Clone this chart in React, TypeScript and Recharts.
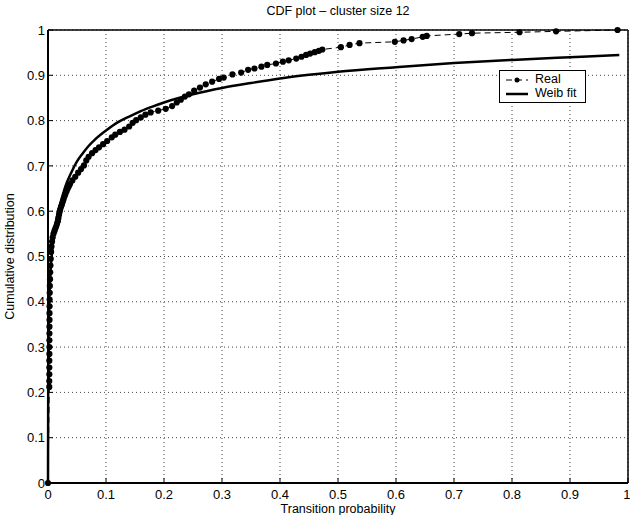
import { ComposedChart, Line, XAxis, YAxis, CartesianGrid } from "recharts";

const TICKS = [0, 0.1, 0.2, 0.3, 0.4, 0.5, 0.6, 0.7, 0.8, 0.9, 1];

const realX = [
  0, 0.0022, 0.0022, 0.0023, 0.0023, 0.0023, 0.0024, 0.0024, 0.0024, 0.0025,
  0.0025, 0.0026, 0.0026, 0.0027, 0.0028, 0.003, 0.0032, 0.0035, 0.0038, 0.0042,
  0.0047, 0.0053, 0.006, 0.007, 0.008, 0.0095, 0.011, 0.0125, 0.014, 0.0155,
  0.017, 0.018, 0.019, 0.02, 0.021, 0.0225, 0.024, 0.0255, 0.027, 0.0285,
  0.03, 0.032, 0.034, 0.036, 0.038, 0.042, 0.047, 0.052,
  0.057, 0.062, 0.066, 0.07, 0.076, 0.082, 0.088, 0.095, 0.102, 0.11,
  0.116, 0.124, 0.132, 0.14, 0.146, 0.152, 0.16, 0.168, 0.177, 0.19,
  0.203, 0.214, 0.222, 0.229, 0.236, 0.243, 0.252, 0.262, 0.272, 0.283,
  0.295, 0.303, 0.318, 0.333, 0.345, 0.356, 0.368, 0.378, 0.393, 0.405,
  0.415, 0.428, 0.437, 0.445, 0.452, 0.46, 0.467, 0.473, 0.505, 0.52,
  0.537, 0.598, 0.613, 0.627, 0.646, 0.653, 0.709, 0.731, 0.813, 0.876,
  0.982,
];
const realY = [
  0, 0.212, 0.225, 0.24, 0.255, 0.27, 0.285, 0.3, 0.315, 0.33,
  0.345, 0.36, 0.375, 0.39, 0.405, 0.42, 0.435, 0.45, 0.465, 0.48,
  0.495, 0.51, 0.522, 0.533, 0.542, 0.55, 0.556, 0.561, 0.566, 0.572,
  0.578, 0.585, 0.592, 0.598, 0.604, 0.61, 0.615, 0.621, 0.627, 0.633,
  0.638, 0.644, 0.65, 0.655, 0.66, 0.668, 0.676, 0.685,
  0.693, 0.701, 0.712, 0.72, 0.728, 0.735, 0.741, 0.748, 0.755, 0.763,
  0.769, 0.775, 0.78, 0.787, 0.795, 0.801, 0.807, 0.813, 0.818, 0.822,
  0.826, 0.832, 0.84, 0.846, 0.853, 0.858, 0.866, 0.873, 0.88, 0.886,
  0.892, 0.895, 0.902, 0.906, 0.912, 0.915, 0.919, 0.923, 0.926, 0.93,
  0.933, 0.937, 0.941, 0.945, 0.948, 0.951, 0.954, 0.957, 0.962, 0.967,
  0.971, 0.974, 0.977, 0.98, 0.985, 0.987, 0.991, 0.993, 0.995, 0.997,
  1.0,
];

// Weibull fit curve
const fitX = [
  0, 0.0005, 0.001, 0.002, 0.003, 0.005, 0.007, 0.01, 0.015, 0.02,
  0.03, 0.04, 0.05, 0.06, 0.07, 0.08, 0.1, 0.12, 0.14, 0.16,
  0.18, 0.2, 0.25, 0.3, 0.35, 0.4, 0.45, 0.5, 0.6, 0.7,
  0.8, 0.9, 0.985,
];
const fitY = [
  0, 0.29, 0.34, 0.4, 0.43, 0.48, 0.51, 0.545, 0.585, 0.61,
  0.655, 0.685, 0.71, 0.728, 0.744, 0.757, 0.778, 0.796, 0.809, 0.821,
  0.831, 0.84, 0.858, 0.872, 0.883, 0.893, 0.901, 0.908, 0.918, 0.927,
  0.934, 0.94, 0.945,
];

const realData = realX.map((x, i) => ({ x, y: realY[i] }));
const fitData = fitX.map((x, i) => ({ x, y: fitY[i] }));

const FONT = '"Liberation Sans", Arial, Helvetica, sans-serif';
const tickStyle = { fill: "#000", fontSize: 13, fontFamily: FONT };
const blank = () => "";

export default function App() {
  return (
    <div style={{ position: "absolute", left: 0, top: 0, width: 630, height: 515, background: "#fff", fontFamily: FONT }}>
      <div style={{ position: "absolute", left: 48, top: 4, width: 580, textAlign: "center", fontSize: 12.5, color: "#000" }}>
        CDF plot – cluster size 12
      </div>
      <ComposedChart width={630} height={515} margin={{ top: 29, right: 1, bottom: 0, left: 0 }}>
        <CartesianGrid stroke="#444" strokeDasharray="1 3" strokeWidth={1} />
        <XAxis
          dataKey="x"
          type="number"
          domain={[0, 1]}
          ticks={TICKS}
          height={32}
          tick={tickStyle}
          tickSize={-5}
          tickMargin={12}
          axisLine={{ stroke: "#000", strokeWidth: 2 }}
          tickLine={{ stroke: "#000", strokeWidth: 1 }}
          label={{ value: "Transition probability", position: "insideBottom", offset: 2, fill: "#000", fontSize: 12.5, fontFamily: FONT }}
        />
        <XAxis
          xAxisId="top"
          orientation="top"
          dataKey="x"
          type="number"
          domain={[0, 1]}
          ticks={TICKS}
          height={1}
          tickSize={-5}
          tickFormatter={blank}
          axisLine={{ stroke: "#000", strokeWidth: 1.5 }}
          tickLine={{ stroke: "#000", strokeWidth: 1 }}
        />
        <YAxis
          type="number"
          domain={[0, 1]}
          ticks={TICKS}
          width={48}
          tick={tickStyle}
          tickSize={-5}
          tickMargin={8}
          axisLine={{ stroke: "#000", strokeWidth: 2 }}
          tickLine={{ stroke: "#000", strokeWidth: 1 }}
          label={{ value: "Cumulative distribution", angle: -90, position: "insideLeft", offset: 10, fill: "#000", fontSize: 12.5, fontFamily: FONT, style: { textAnchor: "middle" } }}
        />
        <YAxis
          yAxisId="right"
          orientation="right"
          type="number"
          domain={[0, 1]}
          ticks={TICKS}
          width={1}
          tickSize={-5}
          tickFormatter={blank}
          axisLine={{ stroke: "#000", strokeWidth: 1.5 }}
          tickLine={{ stroke: "#000", strokeWidth: 1 }}
        />
        <Line
          data={fitData}
          dataKey="y"
          type="monotone"
          stroke="#000"
          strokeWidth={2.5}
          dot={false}
          isAnimationActive={false}
        />
        <Line
          data={realData}
          dataKey="y"
          type="linear"
          stroke="#000"
          strokeWidth={1}
          strokeDasharray="6 4"
          dot={{ r: 3.1, fill: "#000", stroke: "none" }}
          isAnimationActive={false}
        />
      </ComposedChart>
      <div style={{ position: "absolute", left: 499, top: 70, width: 87, height: 33, boxSizing: "border-box", border: "1px solid #000", background: "#fff", fontSize: 12.5, color: "#000" }}>
        <svg style={{ position: "absolute", left: 6, top: 4, overflow: "visible" }} width={24} height={10}>
          <line x1={0} y1={5} x2={22} y2={5} stroke="#000" strokeWidth={1} strokeDasharray="6 4" />
          <circle cx={11} cy={5} r={2.5} fill="#000" />
        </svg>
        <span style={{ position: "absolute", left: 35, top: 1 }}>Real</span>
        <svg style={{ position: "absolute", left: 6, top: 18, overflow: "visible" }} width={24} height={10}>
          <line x1={0} y1={5} x2={22} y2={5} stroke="#000" strokeWidth={2.5} />
        </svg>
        <span style={{ position: "absolute", left: 35, top: 15 }}>Weib fit</span>
      </div>
    </div>
  );
}
